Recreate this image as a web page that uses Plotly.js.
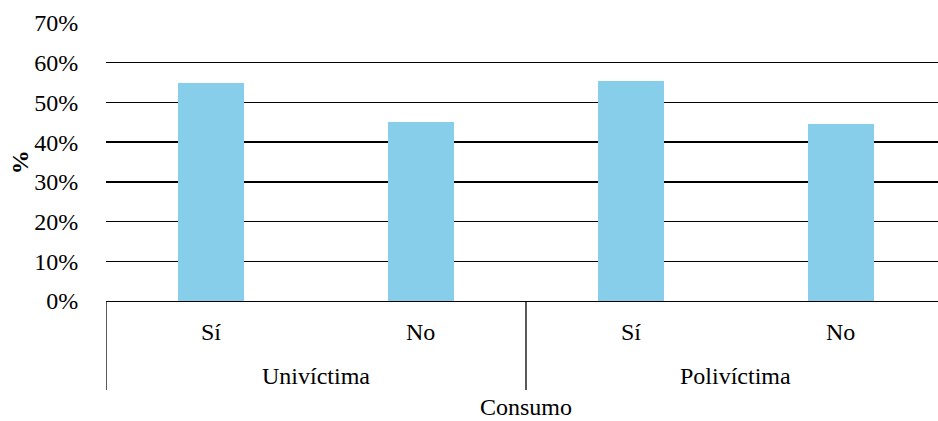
<!DOCTYPE html>
<html>
<head>
<meta charset="utf-8">
<script src="https://cdn.plot.ly/plotly-3.0.1.min.js"></script>
<style>
  html, body { margin: 0; padding: 0; background: #fff; }
  #chart { width: 938px; height: 421px; }
</style>
</head>
<body>
<div id="chart"></div>
<script>
// Consumption answer within each victim group
const consumo = ['Sí', 'No', 'Sí', 'No'];
const grupos = ['Univíctima', 'Polivíctima'];
const porcentajes = [0.55, 0.45, 0.555, 0.445];
const yTicks = [0, 0.1, 0.2, 0.3, 0.4, 0.5, 0.6, 0.7];

const xPos = consumo.map((_, i) => i);
const FONT = 'Liberation Serif';

const trace = {
  type: 'bar',
  x: xPos,
  y: porcentajes,
  width: 0.31,
  marker: { color: '#87CEEB', line: { width: 0 } },
  hoverinfo: 'skip'
};

// Category labels, group labels and the separators between groups
const annotations = [];
consumo.forEach((c, i) => {
  annotations.push({
    x: i, xref: 'x', y: -0.112, yref: 'paper',
    text: c, showarrow: false, xanchor: 'center', yanchor: 'middle',
    font: { family: FONT, size: 24, color: '#000' }
  });
});
const perGroup = consumo.length / grupos.length;
const shapes = [];
grupos.forEach((g, k) => {
  const center = k * perGroup + (perGroup - 1) / 2;
  annotations.push({
    x: center, xref: 'x', y: -0.27, yref: 'paper',
    text: g, showarrow: false, xanchor: 'center', yanchor: 'middle',
    font: { family: FONT, size: 24, color: '#000' }
  });
  shapes.push({
    type: 'line', xref: 'x', yref: 'paper',
    x0: k * perGroup - 0.5, x1: k * perGroup - 0.5, y0: 0, y1: -0.32,
    line: { color: '#000', width: 1.3 }
  });
});
annotations.push({
  x: (consumo.length - 1) / 2, xref: 'x', y: -0.381, yref: 'paper',
  text: 'Consumo', showarrow: false, xanchor: 'center', yanchor: 'middle',
  borderpad: 0,
  font: { family: FONT, size: 24, color: '#000' }
});
annotations.push({
  x: -0.103, xref: 'paper', y: 0.5, yref: 'paper',
  text: '<b>%</b>', textangle: -90, showarrow: false,
  xanchor: 'center', yanchor: 'middle',
  font: { family: FONT, size: 24, color: '#000' }
});

const layout = {
  width: 938,
  height: 421,
  margin: { l: 106, r: 0, t: 23, b: 120 },
  paper_bgcolor: '#fff',
  plot_bgcolor: '#fff',
  showlegend: false,
  bargap: 0,
  font: { family: FONT, color: '#000' },
  xaxis: {
    range: [-0.5, 3.462],
    showticklabels: false,
    ticks: '',
    showgrid: false,
    zeroline: false,
    showline: true,
    linecolor: '#000',
    linewidth: 1.3,
    fixedrange: true
  },
  yaxis: {
    range: [0, 0.7],
    tickvals: yTicks,
    tickformat: '.0%',
    ticks: 'outside',
    ticklen: 22,
    tickcolor: 'rgba(0,0,0,0)',
    showgrid: true,
    gridcolor: '#000',
    gridwidth: 1.3,
    zeroline: false,
    showline: false,
    tickfont: { family: FONT, size: 24, color: '#000' },
    fixedrange: true
  },
  annotations: annotations,
  shapes: shapes
};

Plotly.newPlot('chart', [trace], layout, { displayModeBar: false, staticPlot: true });
</script>
</body>
</html>
